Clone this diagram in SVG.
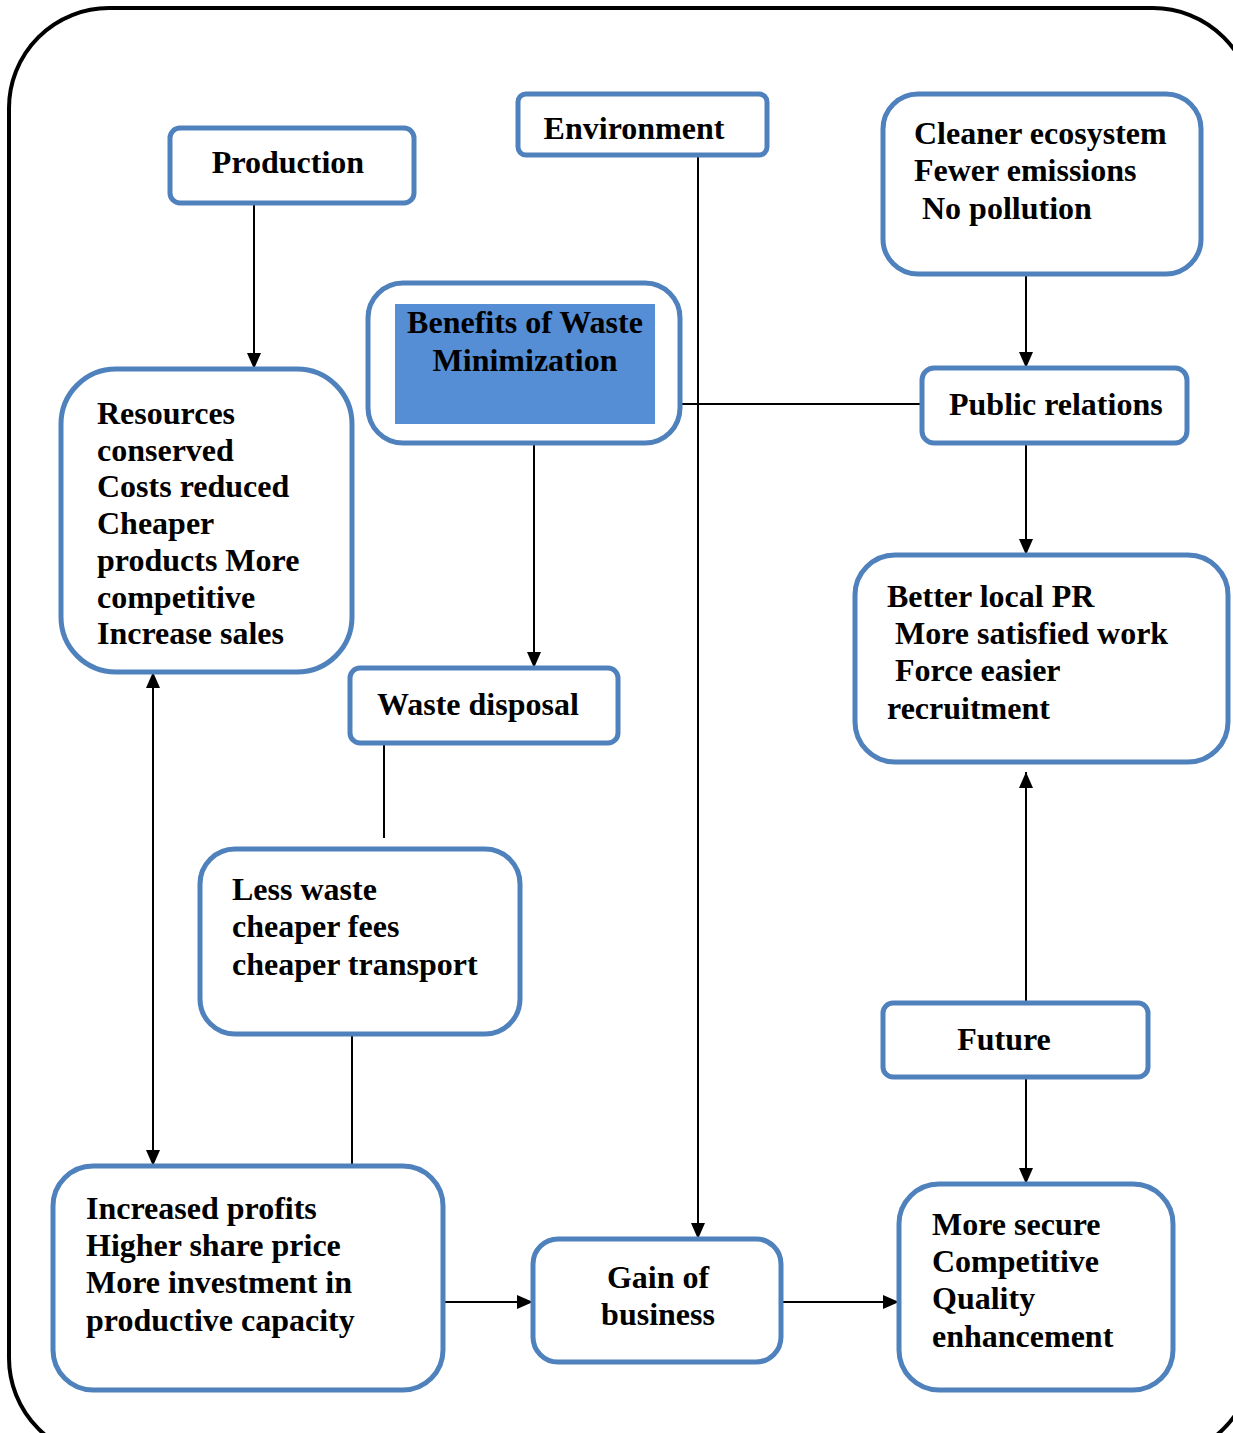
<svg xmlns="http://www.w3.org/2000/svg" width="1233" height="1433" viewBox="0 0 1233 1433">
<defs>
<marker id="arr" markerUnits="userSpaceOnUse" markerWidth="16" markerHeight="14" refX="16" refY="7" orient="auto-start-reverse">
<path d="M0,0 L16,7 L0,14 z" fill="#000"/>
</marker>
<style>
.box{fill:#fff;stroke:#4F81BD;stroke-width:5}
.t{font-family:"Liberation Serif","Times New Roman",serif;font-weight:bold;font-size:32px;fill:#000}
.c{text-anchor:middle}
.ln{stroke:#000;stroke-width:2;fill:none}
.a{marker-end:url(#arr)}
</style>
</defs>
<rect x="9" y="8" width="1244" height="1450" rx="100" ry="100" fill="#fff" stroke="#000" stroke-width="4"/>
<g id="connectors">
<line class="ln a" x1="254" y1="203" x2="254" y2="369"/>
<line class="ln a" x1="698" y1="155" x2="698" y2="1239"/>
<line class="ln" x1="680" y1="404" x2="922" y2="404"/>
<line class="ln a" x1="1026" y1="274" x2="1026" y2="368"/>
<line class="ln a" x1="1026" y1="443" x2="1026" y2="555"/>
<line class="ln a" x1="534" y1="443" x2="534" y2="668"/>
<line class="ln" x1="384" y1="743" x2="384" y2="838"/>
<line class="ln" x1="352" y1="1034" x2="352" y2="1170"/>
<line class="ln a" x1="153" y1="1166" x2="153" y2="672" style="marker-start:url(#arr)"/>
<line class="ln a" x1="1026" y1="1003" x2="1026" y2="772"/>
<line class="ln a" x1="1026" y1="1077" x2="1026" y2="1184"/>
<line class="ln a" x1="443" y1="1302" x2="533" y2="1302"/>
<line class="ln a" x1="781" y1="1302" x2="899" y2="1302"/>
</g>
<g id="production">
<rect class="box" x="170" y="128" width="244" height="75" rx="10"/>
<text class="t c" x="288" y="173">Production</text>
</g>
<g id="environment">
<rect class="box" x="518" y="94" width="249" height="61" rx="8"/>
<text class="t c" x="634" y="139">Environment</text>
</g>
<g id="cleaner">
<rect class="box" x="883" y="94" width="318" height="180" rx="35"/>
<text class="t" x="914" y="144">Cleaner ecosystem</text>
<text class="t" x="914" y="181">Fewer emissions</text>
<text class="t" x="922" y="219">No pollution</text>
</g>
<g id="benefits">
<rect class="box" x="368" y="283" width="312" height="160" rx="35"/>
<rect x="395" y="304" width="260" height="120" fill="#558ED5"/>
<text class="t c" x="525" y="333">Benefits of Waste</text>
<text class="t c" x="525" y="371">Minimization</text>
</g>
<g id="public-relations">
<rect class="box" x="922" y="368" width="265" height="75" rx="12"/>
<text class="t" x="949" y="415">Public relations</text>
</g>
<g id="resources">
<rect class="box" x="61" y="369" width="291" height="303" rx="55"/>
<text class="t" x="97" y="424">Resources</text>
<text class="t" x="97" y="461">conserved</text>
<text class="t" x="97" y="497">Costs reduced</text>
<text class="t" x="97" y="534">Cheaper</text>
<text class="t" x="97" y="571">products More</text>
<text class="t" x="97" y="608">competitive</text>
<text class="t" x="97" y="644">Increase sales</text>
</g>
<g id="waste-disposal">
<rect class="box" x="350" y="668" width="268" height="75" rx="10"/>
<text class="t" x="377" y="715">Waste disposal</text>
</g>
<g id="better-pr">
<rect class="box" x="855" y="555" width="373" height="207" rx="40"/>
<text class="t" x="887" y="607">Better local PR</text>
<text class="t" x="895" y="644">More satisfied work</text>
<text class="t" x="895" y="681">Force easier</text>
<text class="t" x="887" y="719">recruitment</text>
</g>
<g id="less-waste">
<rect class="box" x="200" y="849" width="320" height="185" rx="35"/>
<text class="t" x="232" y="900">Less waste</text>
<text class="t" x="232" y="937">cheaper fees</text>
<text class="t" x="232" y="975">cheaper transport</text>
</g>
<g id="future">
<rect class="box" x="883" y="1003" width="265" height="74" rx="10"/>
<text class="t c" x="1004" y="1050">Future</text>
</g>
<g id="increased-profits">
<rect class="box" x="53" y="1166" width="390" height="224" rx="40"/>
<text class="t" x="86" y="1219">Increased profits</text>
<text class="t" x="86" y="1256">Higher share price</text>
<text class="t" x="86" y="1293">More investment in</text>
<text class="t" x="86" y="1331">productive capacity</text>
</g>
<g id="gain">
<rect class="box" x="533" y="1239" width="248" height="123" rx="25"/>
<text class="t c" x="658" y="1288">Gain of</text>
<text class="t c" x="658" y="1325">business</text>
</g>
<g id="more-secure">
<rect class="box" x="899" y="1184" width="274" height="206" rx="40"/>
<text class="t" x="932" y="1235">More secure</text>
<text class="t" x="932" y="1272">Competitive</text>
<text class="t" x="932" y="1309">Quality</text>
<text class="t" x="932" y="1347">enhancement</text>
</g>
</svg>
